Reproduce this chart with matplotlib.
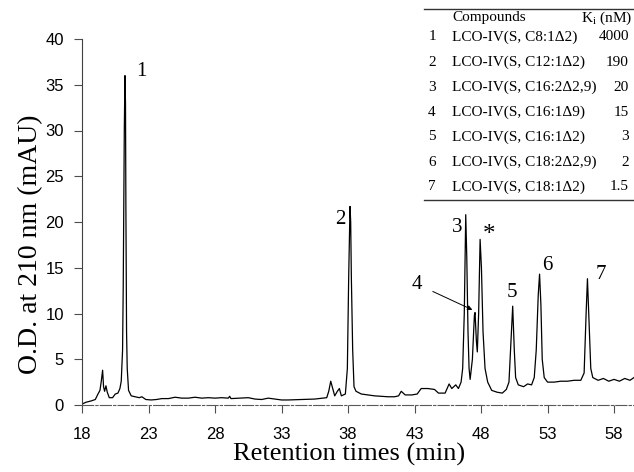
import matplotlib
matplotlib.use("Agg")
import matplotlib.pyplot as plt
from matplotlib.lines import Line2D

# %% chromatogram trace: retention time (min), O.D. (mAU)
rt = [18.0, 18.3, 18.7, 19.0, 19.2, 19.35, 19.45, 19.55, 19.62, 19.7, 19.8, 19.9,
      20.05, 20.3, 20.5, 20.7, 20.85, 20.95, 21.05, 21.1, 21.18, 21.23, 21.27, 21.3,
      21.35, 21.4, 21.5, 21.7, 22.0, 22.3, 22.5, 22.8, 23.2, 23.6, 24.0, 24.5, 25.0,
      25.5, 26.0, 26.5, 27.0, 27.5, 28.0, 28.5, 29.0, 29.1, 29.2, 29.8, 30.5, 31.0,
      31.5, 32.0, 32.5, 33.0, 33.5, 34.5, 35.5, 36.4, 36.55, 36.7, 36.85, 37.0, 37.2,
      37.35, 37.5, 37.8, 37.95, 38.05, 38.15, 38.2, 38.25, 38.35, 38.45, 38.6, 39.0,
      39.5, 40.0, 40.5, 41.0, 41.5, 41.8, 42.0, 42.3, 42.8, 43.2, 43.5, 44.0, 44.5,
      44.8, 45.3, 45.6, 45.8, 46.1, 46.3, 46.5, 46.62, 46.74, 46.85, 46.93, 47.02,
      47.1, 47.18, 47.35, 47.5, 47.55, 47.65, 47.72, 47.82, 47.93, 48.03, 48.15,
      48.3, 48.5, 48.8, 49.2, 49.6, 49.9, 50.1, 50.25, 50.38, 50.5, 50.6, 50.8,
      51.2, 51.5, 51.8, 52.0, 52.15, 52.3, 52.4, 52.5, 52.6, 52.75, 53.0, 53.5,
      54.0, 54.5, 55.0, 55.5, 55.75, 55.9, 56.0, 56.1, 56.25, 56.4, 56.8, 57.2,
      57.6, 58.0, 58.4, 58.8, 59.2, 59.5]
od = [0.1, 0.3, 0.45, 0.6, 1.2, 1.6, 2.6, 3.8, 2.0, 1.5, 2.1, 1.4,
      0.8, 0.8, 1.2, 1.3, 1.8, 2.6, 6.0, 13.0, 30.0, 36.0, 33.0, 21.5,
      8.0, 4.0, 1.6, 1.0, 0.9, 0.8, 0.9, 0.6, 0.55, 0.6, 0.7, 0.7, 0.85,
      0.75, 0.75, 0.85, 0.75, 0.8, 0.75, 0.8, 0.75, 0.95, 0.7, 0.75, 0.8, 0.65,
      0.6, 0.75, 0.65, 0.55, 0.55, 0.6, 0.65, 0.8, 1.5, 2.6, 1.8, 1.0, 1.5,
      1.8, 1.0, 1.2, 4.0, 14.0, 21.7, 20.0, 14.0, 6.0, 2.0, 1.5, 1.2,
      1.1, 1.0, 0.95, 0.9, 0.9, 1.0, 1.5, 1.1, 1.1, 1.2, 1.8, 1.8, 1.7,
      1.3, 1.3, 2.3, 1.8, 2.2, 1.8, 2.5, 4.0, 10.0, 20.8, 16.0, 8.0,
      4.0, 2.8, 5.0, 9.8, 10.1, 7.0, 5.8, 10.0, 18.1, 15.0, 8.0,
      4.0, 2.5, 1.6, 1.4, 1.3, 1.7, 2.5, 7.0, 10.8, 6.0, 3.0, 2.2,
      2.0, 2.3, 2.2, 3.0, 6.0, 12.0, 14.3, 11.0, 5.0, 3.0, 2.5, 2.5,
      2.6, 2.6, 2.7, 2.7, 3.5, 10.0, 13.8, 10.0, 4.0, 3.0, 2.7, 2.9,
      2.6, 2.8, 2.6, 2.9, 2.7, 3.0]

# peak labels and where they sit
peak_labels = ["1", "2", "3", "*", "5", "6", "7"]
peak_x = [22.5, 37.4, 46.2, 48.6, 50.3, 53.0, 57.0]
peak_y = [36.4, 20.3, 19.4, 18.6, 12.3, 15.2, 14.3]

# table
cmp_no = ["1", "2", "3", "4", "5", "6", "7"]
cmp_names = ["LCO-IV(S, C8:1\u03942)", "LCO-IV(S, C12:1\u03942)",
             "LCO-IV(S, C16:2\u03942,9)", "LCO-IV(S, C16:1\u03949)",
             "LCO-IV(S, C16:1\u03942)", "LCO-IV(S, C18:2\u03942,9)",
             "LCO-IV(S, C18:1\u03942)"]
ki = ["4000", "190", "20", "15", "3", "2", "1.5"]

serif = "Liberation Serif"
sans = "Liberation Sans"
W, H = 634, 472

fig = plt.figure(figsize=(W / 100, H / 100), dpi=100)
ax = fig.add_axes([82 / W, 1 - 405 / H, 552 / W, 366 / H])
ax.plot(rt, od, color="black", lw=0.9)

ax.set_xlim(18, 59.5)
ax.set_ylim(0, 40)
ax.set_xticks(range(18, 59, 5))
ax.set_yticks(range(0, 41, 5))
for s in ["top", "right"]:
    ax.spines[s].set_visible(False)
ax.spines["left"].set_color("0.25")
ax.spines["bottom"].set_color("0.35")
ax.spines["bottom"].set_linestyle((0, (10, 2, 2, 2)))
ax.tick_params(axis="both", direction="out", length=6, color="0.3",
               labelsize=12)
ax.tick_params(axis="x", pad=10)
ax.tick_params(axis="y", pad=7)
for lab in ax.get_xticklabels() + ax.get_yticklabels():
    lab.set_fontfamily(sans)

ax.set_xlabel("Retention times (min)", fontsize=19, family=serif)
ax.set_ylabel("O.D. at 210 nm (mAU)", fontsize=20, family=serif)
ax.xaxis.set_label_coords(0.483, -0.103)
ax.yaxis.set_label_coords(-0.07, 0.44)

for t, x, y in zip(peak_labels, peak_x, peak_y):
    fs = 18 if t == "*" else 15
    ax.text(x, y, t, fontsize=fs, family=serif, ha="center", va="center")

ax.annotate("4", xy=(47.35, 10.4), xytext=(43.2, 13.2), fontsize=15,
            family=serif, ha="center", va="center",
            arrowprops=dict(arrowstyle="-|>", lw=0.7, color="black",
                            mutation_scale=7, shrinkA=6, shrinkB=0))


# %% table in the top-right corner (pixel positions -> figure fraction)
def fx(px):
    return px / W


def fy(py):
    return 1 - py / H


fig.add_artist(Line2D([fx(424), fx(634)], [fy(9), fy(9)], color="0.2", lw=1))
fig.add_artist(Line2D([fx(424), fx(634)], [fy(200), fy(200)], color="0.2", lw=1))
tfs = 11
fig.text(fx(452), fy(18), "Compounds", fontsize=tfs, family=serif, va="center")
fig.text(fx(632), fy(18), r"K$_{\mathregular{i}}$ (nM)", fontsize=tfs,
         family=serif, va="center", ha="right")
for i in range(len(cmp_names)):
    yy = fy(37 + i * 25)
    fig.text(fx(432), yy, cmp_no[i], fontsize=tfs, family=serif, va="center",
             ha="center")
    fig.text(fx(452), yy, cmp_names[i], fontsize=tfs, family=serif, va="center")
    fig.text(fx(629), yy, ki[i], fontsize=tfs, family=serif, va="center",
             ha="right")

fig.savefig("out.png", dpi=100)
